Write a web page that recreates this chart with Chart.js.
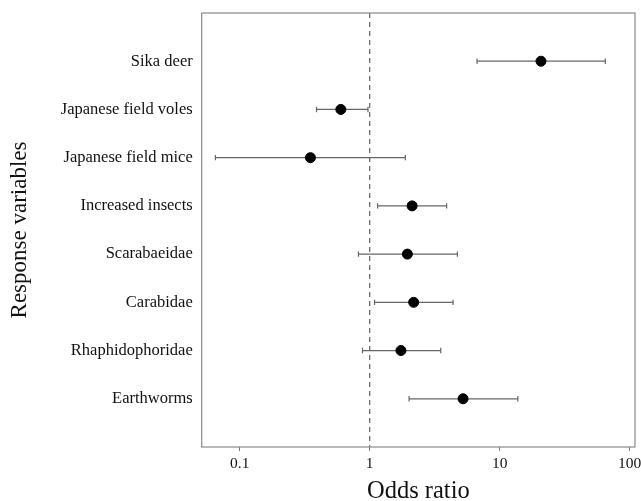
<!DOCTYPE html>
<html>
<head>
<meta charset="utf-8">
<script src="https://cdn.jsdelivr.net/npm/chart.js@4"></script>
<style>
html,body{margin:0;padding:0;background:#fff;}
#wrap{width:641px;height:501px;}
</style>
</head>
<body>
<div id="wrap"><canvas id="c" width="641" height="501"></canvas></div>
<script>
const categories = ["Sika deer","Japanese field voles","Japanese field mice","Increased insects","Scarabaeidae","Carabidae","Rhaphidophoridae","Earthworms"];
const oddsRatio = [20.8, 0.60, 0.35, 2.12, 1.95, 2.18, 1.74, 5.23];
const lowerCI   = [6.7, 0.39, 0.065, 1.15, 0.82, 1.09, 0.88, 2.01];
const upperCI   = [65, 0.97, 1.88, 3.91, 4.73, 4.38, 3.52, 13.8];
const xTicks = [0.1, 1, 10, 100];
const refLine = 1;

const FONT = "'Liberation Serif','Times New Roman',serif";

const datasets = [];
// reference dashed line
datasets.push({
  type:'line', data:[{x:refLine,y:0},{x:refLine,y:9}],
  borderColor:'#6e6e6e', borderWidth:1.3, borderDash:[5,4],
  pointRadius:0, showLine:true, order:3
});
// CI whiskers
categories.forEach((c,i)=>{
  datasets.push({
    type:'line', data:[{x:lowerCI[i],y:i+1},{x:upperCI[i],y:i+1}],
    borderColor:'#666', borderWidth:1.2, showLine:true,
    pointStyle:'line', pointRotation:90, pointRadius:2.7,
    pointBorderColor:'#666', pointBorderWidth:1.2, order:2
  });
});
// point estimates
datasets.push({
  type:'scatter', data:oddsRatio.map((v,i)=>({x:v,y:i+1})),
  backgroundColor:'#000', borderColor:'#000', pointRadius:5, order:1
});

const framePlugin = {
  id:'frame',
  afterDraw(chart){
    const a = chart.chartArea, ctx = chart.ctx;
    ctx.save();
    ctx.strokeStyle = '#8a8a8a';
    ctx.lineWidth = 1.2;
    ctx.strokeRect(a.left, a.top, a.right-a.left, a.bottom-a.top);
    ctx.restore();
  }
};

new Chart(document.getElementById('c'), {
  type:'scatter',
  data:{datasets},
  plugins:[framePlugin],
  options:{
    responsive:false, animation:false,
    layout:{padding:{top:13,right:5,left:0,bottom:0}},
    plugins:{legend:{display:false}, tooltip:{enabled:false}},
    scales:{
      x:{
        type:'logarithmic', min:0.051, max:110,
        afterBuildTicks(s){ s.ticks = xTicks.map(v=>({value:v})); },
        afterFit(s){ s.height = 54; s.paddingLeft = 0; s.paddingRight = 0; },
        ticks:{
          color:'#111', font:{family:FONT,size:15.5}, padding:4,
          maxRotation:0, autoSkip:false,
          callback:(v)=> String(v)
        },
        grid:{drawOnChartArea:false, drawTicks:true, tickLength:4, color:'#777', lineWidth:1},
        border:{display:false},
        title:{display:true, text:'Odds ratio', color:'#111', font:{family:FONT,size:24.5}, padding:{top:5,bottom:-5}}
      },
      y:{
        type:'linear', min:0, max:9, reverse:true,
        afterBuildTicks(s){ s.ticks = categories.map((c,i)=>({value:i+1})); },
        afterFit(s){ s.width = 201.7; s.paddingTop = 0; s.paddingBottom = 0; },
        ticks:{
          color:'#111', font:{family:FONT,size:16.5}, padding:9, autoSkip:false,
          callback:(v)=> categories[v-1] || ''
        },
        grid:{display:false, drawTicks:false},
        border:{display:false},
        title:{display:true, text:'Response variables', color:'#111', font:{family:FONT,size:23}, padding:{top:6,bottom:0}}
      }
    }
  }
});
</script>
</body>
</html>
